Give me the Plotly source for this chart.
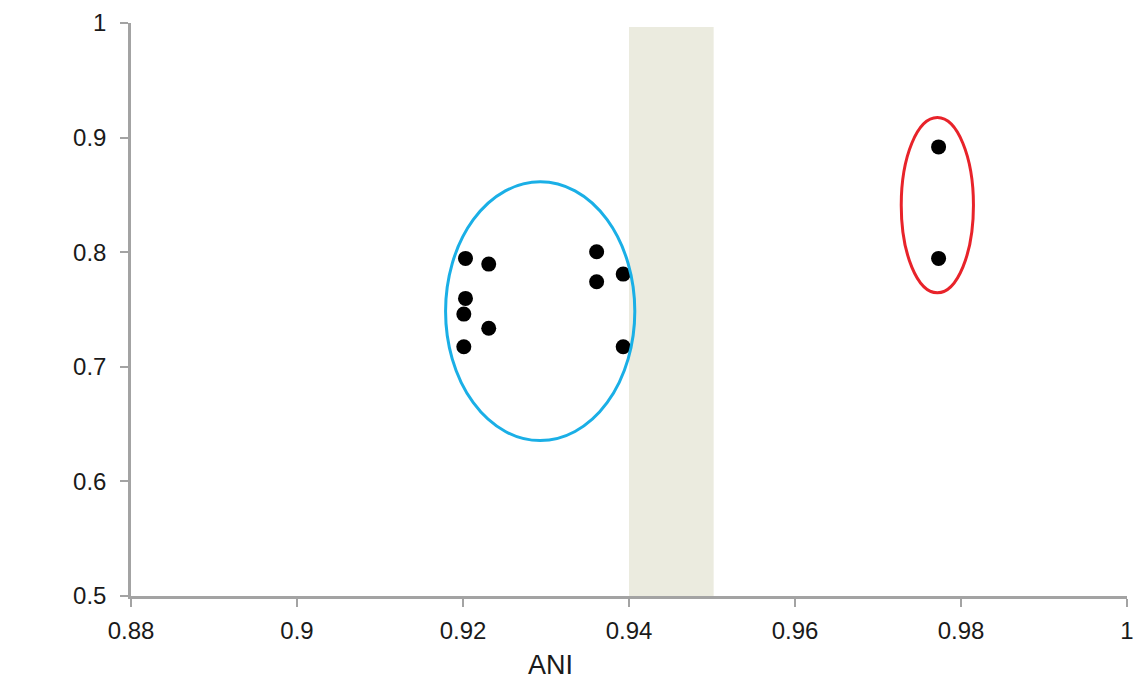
import plotly.graph_objects as go

# Data
ani = [0.9203, 0.9231, 0.9203, 0.9201, 0.9231, 0.9201, 0.9361, 0.9361, 0.9393, 0.9393, 0.9773, 0.9773]
yval = [0.7946, 0.7896, 0.7597, 0.7460, 0.7336, 0.7175, 0.8004, 0.7742, 0.7809, 0.7175, 0.8919, 0.7946]

x_ticks = [0.88, 0.9, 0.92, 0.94, 0.96, 0.98, 1]
x_tick_text = ["0.88", "0.9", "0.92", "0.94", "0.96", "0.98", "1"]
y_ticks = [0.5, 0.6, 0.7, 0.8, 0.9, 1]
y_tick_text = ["0.5", "0.6", "0.7", "0.8", "0.9", "1"]
x_title = "ANI"

band_x = [0.94, 0.9502]
band_y = [0.5, 0.9965]

blue_ellipse_x = [0.9179, 0.9407]
blue_ellipse_y = [0.6356, 0.8614]
red_ellipse_x = [0.9728, 0.9815]
red_ellipse_y = [0.7646, 0.9175]

font = "Liberation Sans, Arial, Helvetica, sans-serif"
axis_col = "#a3a3a3"

fig = go.Figure()
fig.add_trace(go.Scatter(
    x=ani, y=yval, mode="markers",
    marker=dict(color="black", size=15, line=dict(width=0)),
    showlegend=False, cliponaxis=False,
))

fig.add_shape(type="rect", xref="x", yref="y",
              x0=band_x[0], x1=band_x[1], y0=band_y[0], y1=band_y[1],
              fillcolor="#ebebdf", line=dict(width=0), layer="below")
fig.add_shape(type="circle", xref="x", yref="y",
              x0=blue_ellipse_x[0], x1=blue_ellipse_x[1],
              y0=blue_ellipse_y[0], y1=blue_ellipse_y[1],
              line=dict(color="#1aafe6", width=3))
fig.add_shape(type="circle", xref="x", yref="y",
              x0=red_ellipse_x[0], x1=red_ellipse_x[1],
              y0=red_ellipse_y[0], y1=red_ellipse_y[1],
              line=dict(color="#e8232a", width=3))

# Axis title placed off-centre, as in the reference
fig.add_annotation(text=x_title, xref="paper", yref="paper",
                   x=0.4207, y=-0.0915, xanchor="center", yanchor="top",
                   showarrow=False, font=dict(size=27, family=font, color="#1a1a1a"))

fig.update_layout(
    width=1135, height=681,
    margin=dict(l=131, r=8, t=23, b=85, autoexpand=False),
    paper_bgcolor="white", plot_bgcolor="white",
    font=dict(family=font, size=24, color="#1a1a1a"),
    xaxis=dict(
        range=[0.88, 1], tickvals=x_ticks, ticktext=x_tick_text,
        showgrid=False, zeroline=False, showline=True, automargin=False,
        linecolor=axis_col, linewidth=2.5,
        ticks="outside", ticklen=8, tickwidth=2, tickcolor=axis_col,
        tickfont=dict(size=24), ticklabelstandoff=3,
    ),
    yaxis=dict(
        range=[0.5, 1], tickvals=y_ticks, ticktext=y_tick_text,
        showgrid=False, zeroline=False, showline=True, automargin=False,
        linecolor=axis_col, linewidth=2.5,
        ticks="outside", ticklen=8, tickwidth=2, tickcolor=axis_col,
        tickfont=dict(size=24), ticklabelstandoff=9,
    ),
)

fig.write_html("out.html", config={"displayModeBar": False},
               post_script="document.body.style.margin='0';document.body.style.overflow='hidden';")
